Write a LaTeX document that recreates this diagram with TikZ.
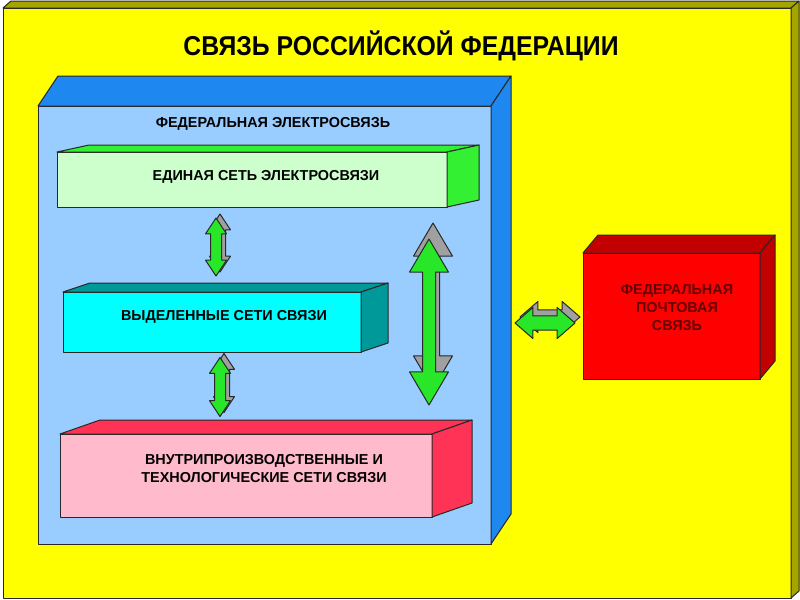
\documentclass[tikz,border=0pt]{standalone}
\usepackage{fontspec}
\setmainfont{Liberation Sans}
\usetikzlibrary{calc,fit,shapes.arrows}

\definecolor{bgfront}{RGB}{255,255,0}
\definecolor{bgside}{RGB}{165,165,0}
\definecolor{fedfront}{RGB}{153,204,255}
\definecolor{fedside}{RGB}{30,136,240}
\definecolor{netfront}{RGB}{204,255,204}
\definecolor{netside}{RGB}{51,240,51}
\definecolor{dedfront}{RGB}{0,255,255}
\definecolor{dedside}{RGB}{0,153,153}
\definecolor{techfront}{RGB}{255,187,204}
\definecolor{techside}{RGB}{255,51,85}
\definecolor{postfront}{RGB}{255,0,0}
\definecolor{postside}{RGB}{195,0,0}
\definecolor{posttext}{RGB}{100,0,0}
\definecolor{arrgreen}{RGB}{40,230,40}
\definecolor{arrgray}{RGB}{160,160,160}
\definecolor{edge}{RGB}{40,40,40}

\tikzset{
  edgeline/.style={draw=edge,line width=0.75pt,line join=round},
  front/.style={edgeline,fill=#1,inner sep=0pt,outer sep=0pt},
  boxtext/.style={font=\fontsize{10.8}{13.5}\selectfont\bfseries,align=center,inner sep=0pt},
  bigtext/.style={font=\fontsize{18.6}{22}\selectfont\bfseries,inner sep=0pt},
  dblarrow/.style={double arrow,edgeline,inner xsep=0pt,outer sep=0pt},
}

% top and side of a box: #1 front node, #2 depth, #3 colour
\newcommand\boxsides[3]{%
  \filldraw[edgeline,fill=#3] (#1.north west) -- ($(#1.north west)+(#2)$)
    -- ($(#1.north east)+(#2)$) -- (#1.north east) -- cycle;
  \filldraw[edgeline,fill=#3] (#1.north east) -- ($(#1.north east)+(#2)$)
    -- ($(#1.south east)+(#2)$) -- (#1.south east) -- cycle;
}

% green block arrow with its grey back: #1 name, #2 options, #3 centre, #4 back offset
\newcommand\blockarrow[4]{%
  \node[dblarrow,fill=arrgray,#2] (#1back) at ($(#3)+(#4)$) {};
  \node[dblarrow,fill=arrgreen,#2] (#1) at (#3) {};
}

\begin{document}
\begin{tikzpicture}[x=0.75pt,y=-0.75pt]
  \useasboundingbox (0,0) rectangle (800,600);

  % background box
  \node[front=bgfront,fit={(3,8) (791,598)}] (bg) {};
  \boxsides{bg}{8,-7}{bgside}
  \node[bigtext] (title) at (401,46) {\scalebox{1}[1.1]{СВЯЗЬ РОССИЙСКОЙ ФЕДЕРАЦИИ}};

  % federal telecommunication
  \node[front=fedfront,fit={(38,106) (491,544)}] (fed) {};
  \boxsides{fed}{20,-30}{fedside}
  \node[boxtext] (fedlabel) at (273,124) {ФЕДЕРАЛЬНАЯ ЭЛЕКТРОСВЯЗЬ};

  \node[front=netfront,fit={(57,152) (447,207)}] (net) {};
  \boxsides{net}{32,-7}{netside}
  \node[boxtext] (netlabel) at (266,177) {ЕДИНАЯ СЕТЬ ЭЛЕКТРОСВЯЗИ};

  \node[front=dedfront,fit={(63,292) (361,352)}] (ded) {};
  \boxsides{ded}{27,-9}{dedside}
  \node[boxtext] (dedlabel) at (224,317) {ВЫДЕЛЕННЫЕ СЕТИ СВЯЗИ};

  \node[front=techfront,fit={(60,434) (432,517)}] (tech) {};
  \boxsides{tech}{40,-14}{techside}
  \node[boxtext] (techlabel) at (264,469)
    {ВНУТРИПРОИЗВОДСТВЕННЫЕ И\\ТЕХНОЛОГИЧЕСКИЕ СЕТИ СВЯЗИ};

  % postal service
  \node[front=postfront,fit={(583,253) (760,379)}] (post) {};
  \boxsides{post}{15,-18}{postside}
  \node[boxtext,text=posttext] (postlabel) at (677,308)
    {ФЕДЕРАЛЬНАЯ\\ПОЧТОВАЯ\\СВЯЗЬ};

  % arrows
  \blockarrow{netded}{rotate=90,minimum height=43.5pt,inner ysep=3.75pt,
    double arrow head extend=3.75pt,double arrow tip angle=67}{216,247}{4,-4}
  \blockarrow{dedtech}{rotate=90,minimum height=44.25pt,inner ysep=3.75pt,
    double arrow head extend=3.75pt,double arrow tip angle=67}{220,387}{4,-4}
  \blockarrow{netech}{rotate=90,minimum height=124.5pt,inner ysep=4.5pt,
    double arrow head extend=9.75pt,double arrow tip angle=61}{429,322}{4,-16}
  \blockarrow{fedpost}{minimum height=45pt,inner ysep=4.9pt,
    double arrow head extend=6.4pt,double arrow tip angle=82}{545,323}{5,-6}
\end{tikzpicture}
\end{document}
